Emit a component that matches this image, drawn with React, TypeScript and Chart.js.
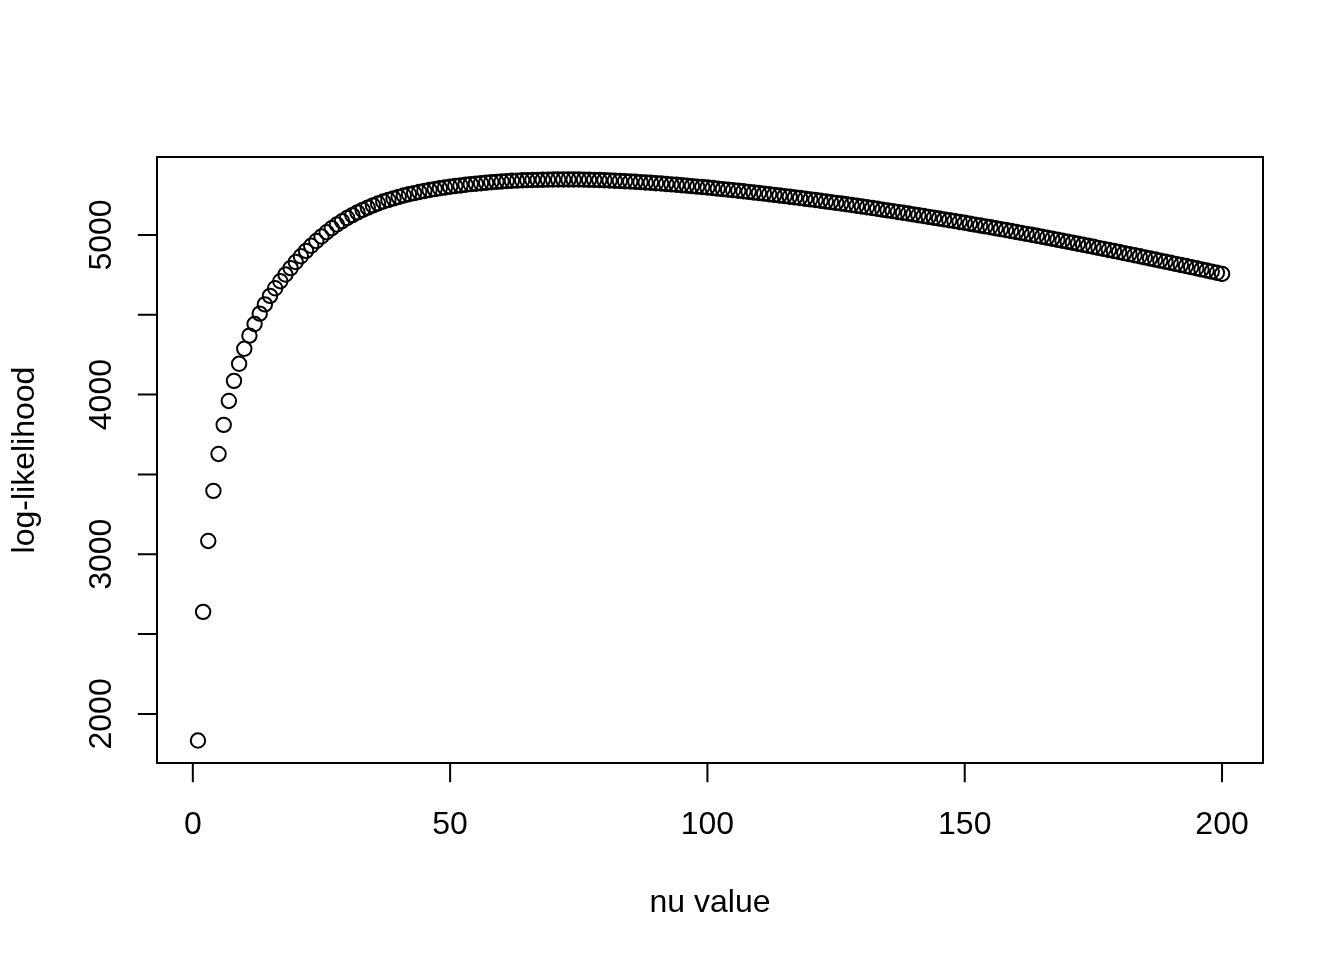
import { useEffect, useRef } from "react";
import { Chart, registerables } from "chart.js";

Chart.register(...registerables);

const nuValues = [
  1, 2, 3, 4, 5, 6, 7, 8, 9, 10, 11, 12, 13, 14, 15, 16, 17, 18, 19, 20,
  21, 22, 23, 24, 25, 26, 27, 28, 29, 30, 31, 32, 33, 34, 35, 36, 37, 38, 39, 40,
  41, 42, 43, 44, 45, 46, 47, 48, 49, 50, 51, 52, 53, 54, 55, 56, 57, 58, 59, 60,
  61, 62, 63, 64, 65, 66, 67, 68, 69, 70, 71, 72, 73, 74, 75, 76, 77, 78, 79, 80,
  81, 82, 83, 84, 85, 86, 87, 88, 89, 90, 91, 92, 93, 94, 95, 96, 97, 98, 99, 100,
  101, 102, 103, 104, 105, 106, 107, 108, 109, 110, 111, 112, 113, 114, 115, 116, 117, 118, 119, 120,
  121, 122, 123, 124, 125, 126, 127, 128, 129, 130, 131, 132, 133, 134, 135, 136, 137, 138, 139, 140,
  141, 142, 143, 144, 145, 146, 147, 148, 149, 150, 151, 152, 153, 154, 155, 156, 157, 158, 159, 160,
  161, 162, 163, 164, 165, 166, 167, 168, 169, 170, 171, 172, 173, 174, 175, 176, 177, 178, 179, 180,
  181, 182, 183, 184, 185, 186, 187, 188, 189, 190, 191, 192, 193, 194, 195, 196, 197, 198, 199, 200,
];

const logLikelihood = [
  1833, 2639, 3083, 3397, 3628, 3810, 3960, 4086, 4193, 4287,
  4369, 4442, 4507, 4565, 4618, 4666, 4710, 4752, 4792, 4830,
  4866, 4900, 4932, 4962, 4990, 5017, 5042, 5065, 5086, 5106,
  5124, 5141, 5157, 5171, 5185, 5197, 5209, 5219, 5229, 5238,
  5247, 5255, 5262, 5269, 5275, 5281, 5287, 5292, 5297, 5302,
  5306, 5310, 5314, 5318, 5321, 5324, 5327, 5330, 5332, 5335,
  5337, 5339, 5340, 5342, 5343, 5344, 5345, 5346, 5346.5, 5347,
  5347.2, 5347.4, 5347.5, 5347.4, 5347.1, 5346.6, 5345.9, 5345.0, 5343.9, 5342.6,
  5341.2, 5339.7, 5338.1, 5336.4, 5334.6, 5332.7, 5330.7, 5328.6, 5326.4, 5324.1,
  5321.7, 5319.2, 5316.7, 5314.1, 5311.4, 5308.6, 5305.7, 5302.8, 5299.8, 5296.7,
  5293.5, 5290.3, 5287.0, 5283.7, 5280.3, 5276.8, 5273.3, 5269.7, 5266.1, 5262.4,
  5258.7, 5254.9, 5251.0, 5247.1, 5243.2, 5239.2, 5235.1, 5231.0, 5226.9, 5222.7,
  5218.5, 5214.2, 5209.8, 5205.4, 5200.9, 5196.4, 5191.8, 5187.2, 5182.5, 5177.8,
  5173.1, 5168.3, 5163.5, 5158.6, 5153.7, 5148.8, 5143.8, 5138.8, 5133.8, 5128.7,
  5123.6, 5118.4, 5113.2, 5108.0, 5102.8, 5097.5, 5092.2, 5086.8, 5081.4, 5075.9,
  5070.4, 5064.8, 5059.2, 5053.5, 5047.8, 5042.1, 5036.3, 5030.5, 5024.6, 5018.7,
  5012.8, 5006.8, 5000.8, 4994.7, 4988.6, 4982.5, 4976.3, 4970.1, 4963.8, 4957.5,
  4951.2, 4944.8, 4938.4, 4932.0, 4925.5, 4919.0, 4912.5, 4906.0, 4899.4, 4892.8,
  4886.2, 4879.5, 4872.8, 4866.1, 4859.4, 4852.7, 4845.9, 4839.1, 4832.3, 4825.5,
  4818.7, 4811.9, 4805.0, 4798.1, 4791.2, 4784.2, 4777.2, 4770.2, 4763.1, 4756.0,
];

const xTicks = [0, 50, 100, 150, 200];
const xTickLabels = ["0", "50", "100", "150", "200"];
const yTicks = [2000, 2500, 3000, 3500, 4000, 4500, 5000];
const yTickLabels = ["2000", "", "3000", "", "4000", "", "5000"];
const xTitle = "nu value";
const yTitle = "log-likelihood";

const FONT = '32px "Liberation Sans", Arial, Helvetica, sans-serif';
const LINE = 38.4;

function paddedRange(values: number[]) {
  const lo = Math.min(...values);
  const hi = Math.max(...values);
  const pad = (hi - lo) * 0.04;
  return { min: lo - pad, max: hi + pad };
}

const rAxesPlugin = {
  id: "rAxes",
  afterDraw(chart: any) {
    const { ctx, chartArea: a, scales } = chart;
    const xs = scales.x;
    const ys = scales.y;
    const tick = 0.5 * LINE;
    ctx.save();
    ctx.strokeStyle = "#000";
    ctx.fillStyle = "#000";
    ctx.lineWidth = 2;
    ctx.lineCap = "butt";
    ctx.strokeRect(a.left, a.top, a.right - a.left, a.bottom - a.top);

    // x axis
    ctx.beginPath();
    const xa = xs.getPixelForValue(xTicks[0]);
    const xb = xs.getPixelForValue(xTicks[xTicks.length - 1]);
    ctx.moveTo(xa, a.bottom);
    ctx.lineTo(xb, a.bottom);
    xTicks.forEach((v) => {
      const px = xs.getPixelForValue(v);
      ctx.moveTo(px, a.bottom);
      ctx.lineTo(px, a.bottom + tick);
    });
    ctx.stroke();

    // y axis
    ctx.beginPath();
    const ya = ys.getPixelForValue(yTicks[0]);
    const yb = ys.getPixelForValue(yTicks[yTicks.length - 1]);
    ctx.moveTo(a.left, ya);
    ctx.lineTo(a.left, yb);
    yTicks.forEach((v) => {
      const py = ys.getPixelForValue(v);
      ctx.moveTo(a.left, py);
      ctx.lineTo(a.left - tick, py);
    });
    ctx.stroke();

    ctx.font = FONT;
    ctx.textAlign = "center";
    ctx.textBaseline = "alphabetic";
    xTicks.forEach((v, i) => {
      ctx.fillText(xTickLabels[i], xs.getPixelForValue(v), a.bottom + 1.8 * LINE + 2);
    });
    yTicks.forEach((v, i) => {
      if (!yTickLabels[i]) return;
      ctx.save();
      ctx.translate(a.left - 1.2 * LINE, ys.getPixelForValue(v));
      ctx.rotate(-Math.PI / 2);
      ctx.fillText(yTickLabels[i], 0, 0);
      ctx.restore();
    });

    ctx.fillText(xTitle, (a.left + a.right) / 2, a.bottom + 3.8 * LINE + 3);
    ctx.save();
    ctx.translate(a.left - 3.2 * LINE, (a.top + a.bottom) / 2);
    ctx.rotate(-Math.PI / 2);
    ctx.fillText(yTitle, 0, 0);
    ctx.restore();
    ctx.restore();
  },
};

export default function App() {
  const canvasRef = useRef<HTMLCanvasElement | null>(null);

  useEffect(() => {
    document.body.style.margin = "0";
    const canvas = canvasRef.current;
    if (!canvas) return;
    const xr = paddedRange(nuValues);
    const yr = paddedRange(logLikelihood);
    const chart = new Chart(canvas, {
      type: "scatter",
      data: {
        datasets: [
          {
            data: nuValues.map((x, i) => ({ x, y: logLikelihood[i] })),
            pointStyle: "circle",
            pointRadius: 7.2,
            pointHoverRadius: 7.2,
            borderWidth: 2,
            borderColor: "#000000",
            backgroundColor: "rgba(0,0,0,0)",
            showLine: false,
          },
        ],
      },
      options: {
        responsive: false,
        animation: false,
        events: [],
        devicePixelRatio: 1,
        layout: { padding: { left: 157, right: 81, top: 157, bottom: 197 } },
        scales: {
          x: { type: "linear", min: xr.min, max: xr.max, display: false },
          y: { type: "linear", min: yr.min, max: yr.max, display: false },
        },
        plugins: {
          legend: { display: false },
          tooltip: { enabled: false },
          title: { display: false },
        },
      },
      plugins: [rAxesPlugin],
    });
    return () => chart.destroy();
  }, []);

  return (
    <div style={{ width: 1344, height: 960, background: "#fff" }}>
      <canvas ref={canvasRef} width={1344} height={960} style={{ display: "block" }} />
    </div>
  );
}
